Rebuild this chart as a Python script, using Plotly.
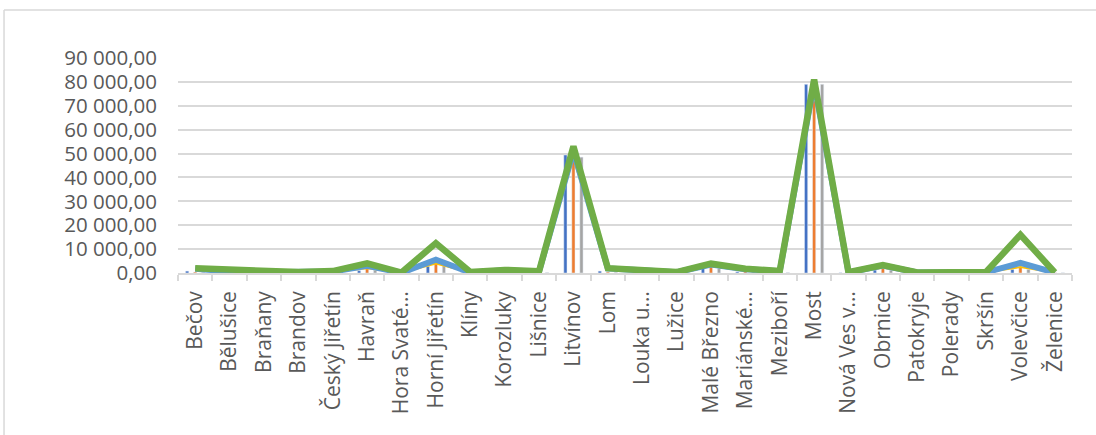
import plotly.graph_objects as go

categories = ["Bečov", "Bělušice", "Braňany", "Brandov", "Český Jiřetín", "Havraň",
              "Hora Svaté…", "Horní Jiřetín", "Klíny", "Korozluky", "Lišnice", "Litvínov",
              "Lom", "Louka u…", "Lužice", "Malé Březno", "Mariánské…", "Meziboří",
              "Most", "Nová Ves v…", "Obrnice", "Patokryje", "Polerady", "Skršín",
              "Volevčice", "Želenice"]

bar_blue = [800, 200, 150, 100, 200, 1000, 100, 2800, 100, 300, 200, 49400,
            800, 300, 100, 2000, 500, 200, 79000, 100, 1200, 100, 150, 150, 1500, 100]
bar_orange = [400, 300, 200, 150, 300, 1800, 100, 4000, 150, 400, 250, 47000,
              400, 400, 150, 2800, 700, 300, 72000, 150, 2000, 100, 200, 200, 2500, 100]
bar_gray = [300, 200, 150, 100, 200, 1100, 100, 3000, 100, 300, 200, 48500,
            300, 300, 100, 1800, 500, 200, 79000, 100, 1200, 100, 150, 150, 1500, 100]
line_yellow = [1500, 800, 400, 200, 500, 2000, 150, 4000, 200, 900, 500, 48000,
               1500, 800, 200, 2800, 1200, 400, 76000, 200, 2200, 150, 300, 300, 2500, 150]
line_lightblue = [1800, 600, 300, 200, 600, 3000, 100, 5600, 200, 1100, 600, 51000,
                  1900, 1100, 300, 3500, 1600, 700, 79500, 200, 3100, 200, 400, 300, 4200, 150]
line_green = [2000, 1300, 600, 400, 800, 4000, 200, 12500, 400, 1300, 700, 53000,
              2000, 1200, 400, 3900, 1800, 800, 81000, 300, 3300, 250, 500, 400, 16000, 200]

ytick_vals = [0, 10000, 20000, 30000, 40000, 50000, 60000, 70000, 80000, 90000]
ytick_text = ["0,00", "10 000,00", "20 000,00", "30 000,00", "40 000,00", "50 000,00",
              "60 000,00", "70 000,00", "80 000,00", "90 000,00"]

fig = go.Figure()
fig.add_trace(go.Bar(x=categories, y=bar_blue, marker_color="#4472C4", name="Série 1"))
fig.add_trace(go.Bar(x=categories, y=bar_orange, marker_color="#ED7D31", name="Série 2"))
fig.add_trace(go.Bar(x=categories, y=bar_gray, marker_color="#A5A5A5", name="Série 3"))
fig.add_trace(go.Scatter(x=categories, y=line_yellow, mode="lines",
                         line=dict(color="#FFC000", width=2), name="Série 4"))
fig.add_trace(go.Scatter(x=categories, y=line_lightblue, mode="lines",
                         line=dict(color="#5B9BD5", width=6), name="Série 5"))
fig.add_trace(go.Scatter(x=categories, y=line_green, mode="lines",
                         line=dict(color="#70AD47", width=6.5), name="Série 6"))

font_family = "'Open Sans', sans-serif"
fig.update_layout(
    width=1096, height=435,
    margin=dict(l=178, r=24, t=58, b=162),
    paper_bgcolor="white", plot_bgcolor="white",
    showlegend=False,
    barmode="group", bargap=0.30, bargroupgap=0.6,
    font=dict(family=font_family, color="#595959", size=20),
    xaxis=dict(
        type="category", tickangle=-90, tickson="boundaries",
        ticks="outside", ticklen=6, tickcolor="#d9d9d9", tickwidth=1.5,
        showline=True, linecolor="#d9d9d9", linewidth=1.5, ticklabelstandoff=8,
        showgrid=False, tickfont=dict(size=21, color="#595959", family=font_family),
    ),
    yaxis=dict(
        range=[0, 90000], tickvals=ytick_vals, ticktext=ytick_text,
        showgrid=True, gridcolor="#d9d9d9", gridwidth=1.5,
        zeroline=False, showline=False, ticks="", ticklabelstandoff=20,
        tickfont=dict(size=20.5, color="#595959", family=font_family),
    ),
    shapes=[
        dict(type="line", xref="paper", yref="paper", x0=-0.1946, x1=-0.1946,
             y0=1.2233, y1=-0.76, line=dict(color="#d9d9d9", width=1.5)),
        dict(type="line", xref="paper", yref="paper", x0=-0.1946, x1=1.03,
             y0=1.2233, y1=1.2233, line=dict(color="#d9d9d9", width=1.5)),
    ],
)

fig.write_html("out.html")
